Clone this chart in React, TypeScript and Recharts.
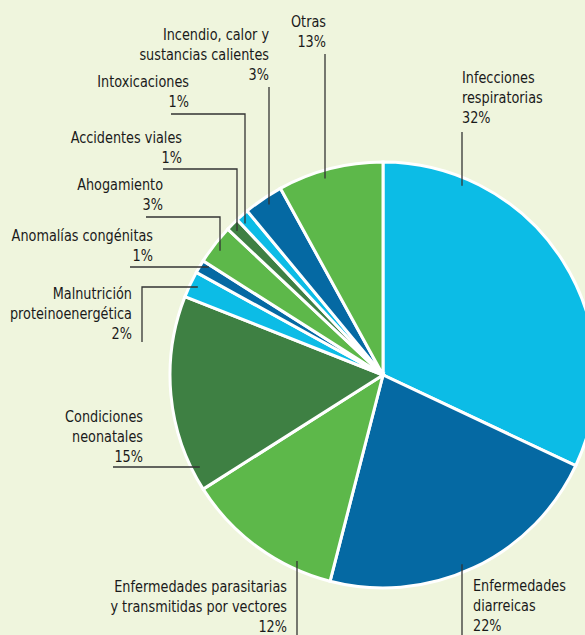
import { PieChart, Pie, Cell } from 'recharts';

// Causes of death, clockwise from 12 o'clock
const causes = [
  'Infecciones respiratorias',
  'Enfermedades diarreicas',
  'Enfermedades parasitarias y transmitidas por vectores',
  'Condiciones neonatales',
  'Malnutrición proteinoenergética',
  'Anomalías congénitas',
  'Ahogamiento',
  'Accidentes viales',
  'Intoxicaciones',
  'Incendio, calor y sustancias calientes',
  'Otras',
];
// slice sizes as drawn
const shares = [32, 22, 12, 15, 2, 1, 3, 1, 1, 3, 8];
// percentages printed on the labels
const pctLabels = ['32%', '22%', '12%', '15%', '2%', '1%', '3%', '1%', '1%', '3%', '13%'];
const labelLines = [
  ['Infecciones', 'respiratorias'],
  ['Enfermedades', 'diarreicas'],
  ['Enfermedades parasitarias', 'y transmitidas por vectores'],
  ['Condiciones', 'neonatales'],
  ['Malnutrición', 'proteinoenergética'],
  ['Anomalías congénitas'],
  ['Ahogamiento'],
  ['Accidentes viales'],
  ['Intoxicaciones'],
  ['Incendio, calor y', 'sustancias calientes'],
  ['Otras'],
];

const LIGHT_BLUE = '#0cbce6';
const DARK_BLUE = '#0569a3';
const GREEN = '#5db84a';
const DARK_GREEN = '#3e8043';
const colors = [
  LIGHT_BLUE, DARK_BLUE, GREEN, DARK_GREEN,
  LIGHT_BLUE, DARK_BLUE, GREEN, DARK_GREEN,
  LIGHT_BLUE, DARK_BLUE, GREEN,
];

const data = causes.map((name, i) => ({ name, value: shares[i] }));

// label placement: text position + leader shape
type Leader =
  | { kind: 'v'; x: number; y0: number; up: boolean }
  | { kind: 'h'; y: number; x0: number }
  | { kind: 'hv'; y: number; x0: number; x: number }
  | { kind: 'vh'; x: number; y0: number; y: number };

const layout: { x: number; y: number; anchor: 'start' | 'end'; leader: Leader }[] = [
  { x: 462, y: 83, anchor: 'start', leader: { kind: 'v', x: 462, y0: 132, up: true } },
  { x: 473, y: 591, anchor: 'start', leader: { kind: 'v', x: 462, y0: 635, up: false } },
  { x: 287, y: 592, anchor: 'end', leader: { kind: 'v', x: 297, y0: 635, up: false } },
  { x: 143, y: 422, anchor: 'end', leader: { kind: 'h', y: 467, x0: 113 } },
  { x: 132, y: 299, anchor: 'end', leader: { kind: 'vh', x: 142, y0: 342, y: 287 } },
  { x: 153, y: 241, anchor: 'end', leader: { kind: 'h', y: 267, x0: 130 } },
  { x: 163, y: 190, anchor: 'end', leader: { kind: 'hv', y: 217, x0: 146, x: 220 } },
  { x: 182, y: 143, anchor: 'end', leader: { kind: 'hv', y: 169, x0: 163, x: 237 } },
  { x: 189, y: 87, anchor: 'end', leader: { kind: 'hv', y: 114, x0: 171, x: 245 } },
  { x: 269, y: 40, anchor: 'end', leader: { kind: 'v', x: 269, y0: 87, up: true } },
  { x: 326, y: 27, anchor: 'end', leader: { kind: 'v', x: 325, y0: 54, up: true } },
];

const LINE_H = 20;
// no condensed face installed, so squeeze the condensed DejaVu a bit more
const SQUEEZE = 0.866;

function renderLabel(props: any) {
  const { cx, cy, outerRadius, index } = props;
  const spec = layout[index];
  const rr = outerRadius - 8;
  const L = spec.leader;
  let pts: [number, number][] = [];
  if (L.kind === 'v') {
    const dy = Math.sqrt(rr * rr - (L.x - cx) * (L.x - cx));
    pts = [[L.x, L.y0], [L.x, L.up ? cy - dy : cy + dy]];
  } else if (L.kind === 'h') {
    const dx = Math.sqrt(rr * rr - (L.y - cy) * (L.y - cy));
    pts = [[L.x0, L.y], [cx - dx, L.y]];
  } else if (L.kind === 'hv') {
    const dy = Math.sqrt(rr * rr - (L.x - cx) * (L.x - cx));
    pts = [[L.x0, L.y], [L.x, L.y], [L.x, cy - dy]];
  } else {
    const dx = Math.sqrt(rr * rr - (L.y - cy) * (L.y - cy));
    pts = [[L.x, L.y0], [L.x, L.y], [cx - dx, L.y]];
  }
  const lines = [...labelLines[index], pctLabels[index]];
  return (
    <g key={`lbl-${index}`}>
      <polyline
        points={pts.map((p) => p.join(',')).join(' ')}
        fill="none"
        stroke="#333333"
        strokeWidth={1.3}
      />
      <text
        transform={`translate(${spec.x} ${spec.y}) scale(${SQUEEZE} 1)`}
        x={0}
        y={0}
        textAnchor={spec.anchor}
        fill="#1a1a1a"
        fontSize={16.5}
        fontFamily="'DejaVu Sans Condensed', 'DejaVu Sans', sans-serif"
      >
        {lines.map((t, i) => (
          <tspan key={i} x={0} y={i * LINE_H}>
            {t}
          </tspan>
        ))}
      </text>
    </g>
  );
}

export default function App() {
  return (
    <div style={{ position: 'absolute', left: 0, top: 0, width: 585, height: 635, background: '#eff5dd' }}>
      <PieChart width={585} height={635} margin={{ top: 0, right: 0, bottom: 0, left: 0 }}>
        <Pie
          data={data}
          dataKey="value"
          nameKey="name"
          cx={383}
          cy={375}
          outerRadius={213}
          startAngle={90}
          endAngle={-270}
          stroke="#ffffff"
          strokeWidth={3}
          labelLine={false}
          label={renderLabel}
          isAnimationActive={false}
        >
          {data.map((d, i) => (
            <Cell key={d.name} fill={colors[i]} />
          ))}
        </Pie>
      </PieChart>
    </div>
  );
}
